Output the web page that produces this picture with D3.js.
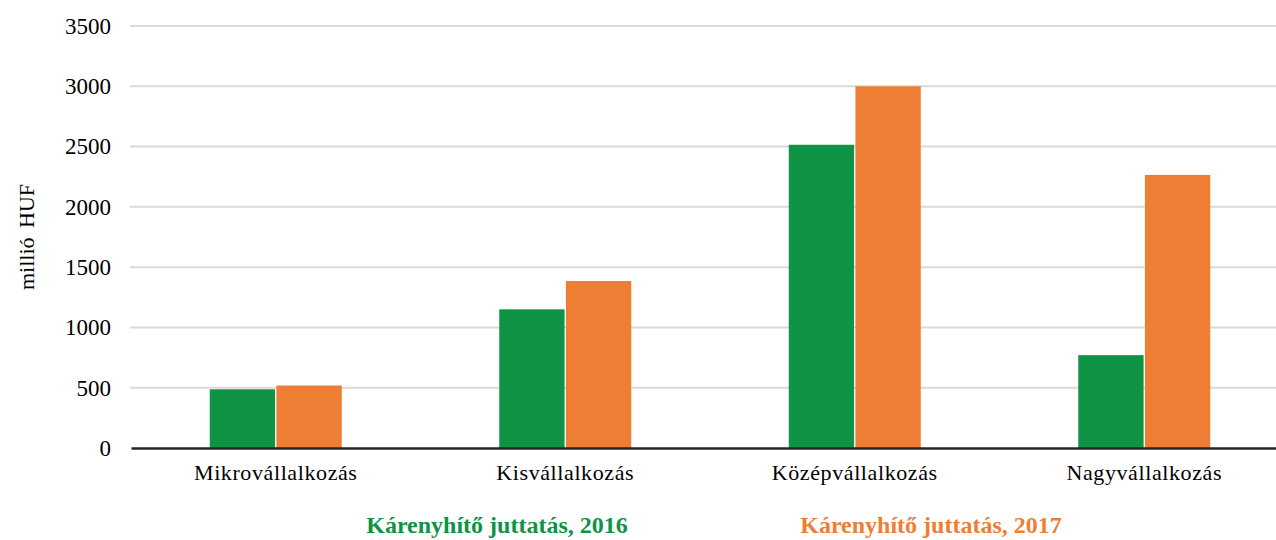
<!DOCTYPE html>
<html>
<head>
<meta charset="utf-8">
<script src="https://cdn.jsdelivr.net/npm/d3@7"></script>
<style>
  body { margin: 0; background: #fff; }
  svg text { font-family: "Liberation Serif", "Times New Roman", serif; }
</style>
</head>
<body>
<script>
// chart data
var categories = ["Mikrovállalkozás", "Kisvállalkozás", "Középvállalkozás", "Nagyvállalkozás"];
var seriesNames = ["Kárenyhítő juttatás, 2016", "Kárenyhítő juttatás, 2017"];
var values2016 = [487, 1150, 2515, 770];
var values2017 = [518, 1385, 3000, 2265];
var yTicks = [0, 500, 1000, 1500, 2000, 2500, 3000, 3500];
var colors = ["#0f9345", "#ed7e33"];

var width = 1276, height = 540;
var margin = { top: 26, right: -13, bottom: 92, left: 131 };
var innerW = width - margin.left - margin.right,
    innerH = height - margin.top - margin.bottom;

var svg = d3.select("body").append("svg")
    .attr("width", width)
    .attr("height", height);

var g = svg.append("g")
    .attr("transform", `translate(${margin.left}, ${margin.top})`);

var x = d3.scaleBand().domain(categories).range([0, innerW]).paddingInner(0).paddingOuter(0);
var y = d3.scaleLinear().domain([0, 3500]).range([innerH, 0]);

var barW = 66;
var xs = d3.scaleBand().domain([0, 1]).range([x.bandwidth() / 2 - barW, x.bandwidth() / 2 + barW]).paddingInner(0.02);

// gridlines
g.append("g")
  .selectAll("line")
  .data(yTicks.filter(d => d > 0))
  .join("line")
  .attr("x1", -1).attr("x2", innerW)
  .attr("y1", d => y(d)).attr("y2", d => y(d))
  .attr("stroke", "#d9d9d9")
  .attr("stroke-width", 2);

// y axis labels
var yAxis = g.append("g")
  .call(d3.axisLeft(y).tickValues(yTicks).tickFormat(d3.format("d")).tickSize(0).tickPadding(20));
yAxis.select(".domain").remove();
yAxis.attr("font-family", null);
yAxis.selectAll("text")
  .attr("font-size", 23)
  .attr("fill", "#000");

// bars
var rows = categories.map((c, i) => ({ cat: c, vals: [values2016[i], values2017[i]] }));
var groups = g.selectAll(".grp")
  .data(rows)
  .join("g")
  .attr("class", "grp")
  .attr("transform", d => `translate(${x(d.cat)}, 0)`);

groups.selectAll("rect")
  .data(d => d.vals.map((v, k) => ({ k: k, v: v })))
  .join("rect")
  .attr("x", d => xs(d.k))
  .attr("width", xs.bandwidth())
  .attr("y", d => y(d.v))
  .attr("height", d => innerH - y(d.v))
  .attr("fill", d => colors[d.k]);

// x axis line + labels
var xAxis = g.append("g")
  .attr("transform", `translate(0, ${innerH})`)
  .call(d3.axisBottom(x).tickSize(0).tickPadding(16));
xAxis.attr("font-family", null);
xAxis.select(".domain")
  .attr("stroke", "#262626")
  .attr("stroke-width", 2.5);
xAxis.selectAll("text")
  .attr("font-size", 22)
  .attr("fill", "#000")
  .attr("letter-spacing", 0.6);

// y axis title
svg.append("text")
  .attr("transform", "translate(34, 237) rotate(-90)")
  .attr("text-anchor", "middle")
  .attr("font-size", 22)
  .attr("word-spacing", 4)
  .text("millió HUF");

// legend
var legendX = [497, 931];
svg.selectAll(".legend")
  .data(seriesNames)
  .join("text")
  .attr("class", "legend")
  .attr("x", (d, i) => legendX[i])
  .attr("y", 533)
  .attr("text-anchor", "middle")
  .attr("font-size", 24)
  .attr("font-weight", "bold")
  .attr("fill", (d, i) => colors[i])
  .text(d => d);
</script>
</body>
</html>
